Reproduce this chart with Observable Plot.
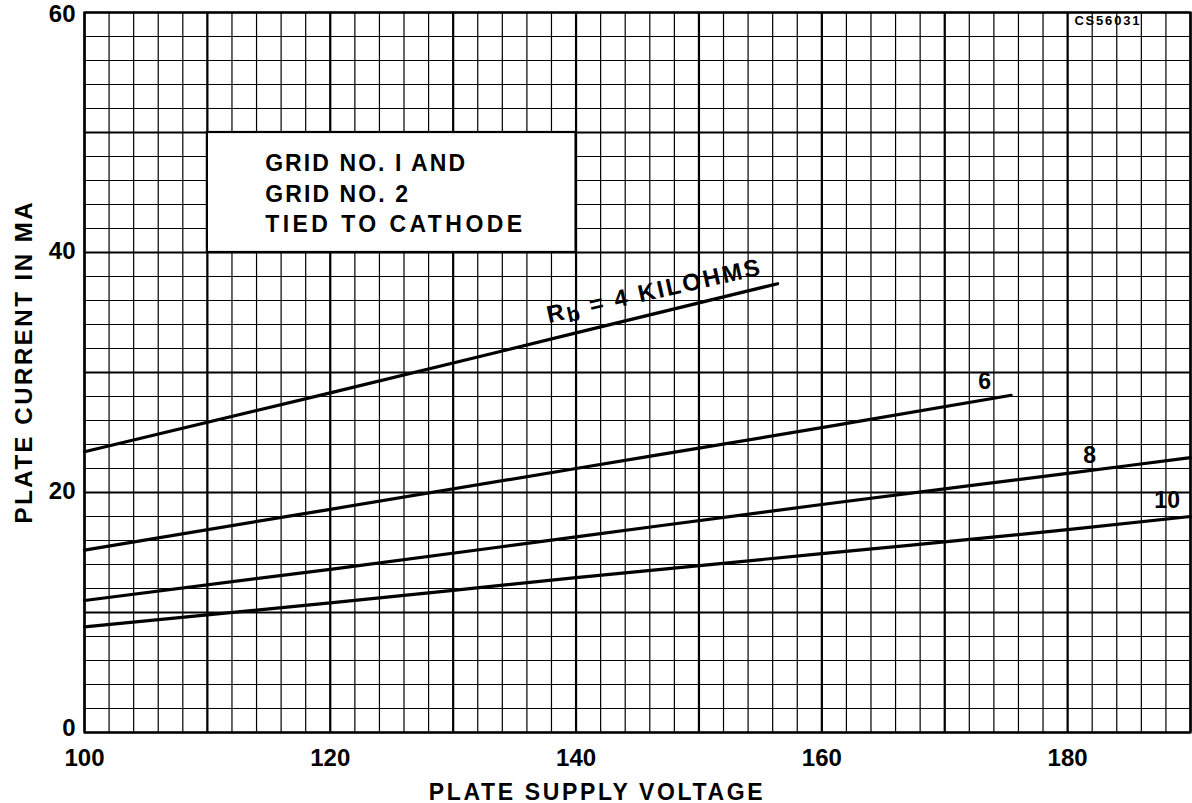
<!DOCTYPE html>
<html>
<head>
<meta charset="utf-8">
<script src="https://cdn.jsdelivr.net/npm/d3@7"></script>
<script src="https://cdn.jsdelivr.net/npm/@observablehq/plot@0.6"></script>
<style>
  html, body { margin: 0; padding: 0; background: #fff; }
  #chart svg { display: block; }
</style>
</head>
<body>
<div id="chart"></div>
<script>
// ---- data ----
const xTicks = [100, 120, 140, 160, 180];
const yTicks = [0, 20, 40, 60];

const rb4V = [100, 120, 140, 156.4];
const rb4I = [23.4, 28.3, 33.3, 37.4];

const rb6V = [100, 120, 140, 160, 175.4];
const rb6I = [15.2, 18.6, 22.0, 25.4, 28.1];

const rb8V = [100, 120, 140, 160, 180, 190];
const rb8I = [11.0, 13.6, 16.3, 19.0, 21.6, 22.9];

const rb10V = [100, 120, 140, 160, 180, 190];
const rb10I = [8.8, 10.8, 12.9, 14.9, 16.9, 18.0];

const curveLabels = ["Rb = 4 KILOHMS", "6", "8", "10"];
const noteLines = ["GRID NO. I AND", "GRID NO. 2", "TIED TO CATHODE"];
const xLabel = "PLATE SUPPLY VOLTAGE";
const yLabel = "PLATE CURRENT IN MA";
const code = "CS56031";

// ---- build tables ----
const series = [
  {V: rb4V, I: rb4I, k: "4"},
  {V: rb6V, I: rb6I, k: "6"},
  {V: rb8V, I: rb8I, k: "8"},
  {V: rb10V, I: rb10I, k: "10"}
];
const pts = series.flatMap(s => s.V.map((v, i) => ({v, i: s.I[i], k: s.k})));

const minorX = d3.range(100, 191, 2);
const minorY = d3.range(0, 61, 2);
const majorX = d3.range(100, 191, 10);
const majorY = d3.range(0, 61, 10);

const FONT = "'Liberation Sans', Arial, sans-serif";
const yAxisOpts = {tickSize: 0, tickPadding: 9, fontSize: 24, fontWeight: "bold", label: null};

const chart = Plot.plot({
  width: 1192,
  height: 803,
  marginLeft: 84,
  marginRight: 2,
  marginTop: 12,
  marginBottom: 71,
  x: {domain: [100, 190]},
  y: {domain: [0, 60]},
  style: {fontFamily: FONT, background: "#fff", color: "#000"},
  marks: [
    Plot.ruleX(minorX, {stroke: "#000", strokeWidth: 1.2}),
    Plot.ruleY(minorY, {stroke: "#000", strokeWidth: 1.2}),
    Plot.ruleX(majorX, {stroke: "#000", strokeWidth: 2.2}),
    Plot.ruleY(majorY, {stroke: "#000", strokeWidth: 2.2}),
    // note box
    Plot.rect([{x1: 110, x2: 140, y1: 40, y2: 50}], {x1: "x1", x2: "x2", y1: "y1", y2: "y2", fill: "#fff", stroke: "#000", strokeWidth: 2.2}),
    Plot.text(noteLines, {
      x: 114.7, y: (d, i) => [46.83, 44.19, 41.69][i],
      text: d => d, textAnchor: "start", lineAnchor: "bottom",
      fontSize: 23, fontWeight: "bold", fill: "#000", className: "note"
    }),
    // curves
    Plot.line(pts, {x: "v", y: "i", z: "k", stroke: "#000", strokeWidth: 3.2, curve: "monotone-x"}),
    // curve labels
    Plot.text([curveLabels[0]], {x: 146.42, y: 36.14, text: d => d, rotate: -12.8, lineAnchor: "bottom", fontSize: 24, fontWeight: "bold", fill: "#000", className: "rblabel"}),
    Plot.text([curveLabels[1]], {x: 173.25, y: 29.25, text: d => d, fontSize: 23, fontWeight: "bold", fill: "#000"}),
    Plot.text([curveLabels[2]], {x: 181.8, y: 23.1, text: d => d, fontSize: 23, fontWeight: "bold", fill: "#000"}),
    Plot.text([curveLabels[3]], {x: 188.1, y: 19.3, text: d => d, fontSize: 23, fontWeight: "bold", fill: "#000"}),
    Plot.text([code], {x: 183.2, y: 59.33, text: d => d, fontSize: 13, fontWeight: "bold", fill: "#000", className: "code"}),
    // axes
    Plot.axisX({ticks: xTicks, tickSize: 0, tickPadding: 16, fontSize: 24, fontWeight: "bold", label: null}),
    Plot.axisY({...yAxisOpts, ticks: yTicks.filter(v => v === 0), dy: -4}),
    Plot.axisY({...yAxisOpts, ticks: yTicks.filter(v => v > 0 && v < 60), dy: -1}),
    Plot.axisY({...yAxisOpts, ticks: yTicks.filter(v => v === 60), dy: 2}),
    Plot.text([xLabel], {x: 141.6, frameAnchor: "bottom", lineAnchor: "bottom", dy: 67, text: d => d, fontSize: 23, fontWeight: "bold", fill: "#000", className: "xlab"}),
    Plot.text([yLabel], {y: 30.8, frameAnchor: "left", textAnchor: "middle", lineAnchor: "middle", dx: -60, rotate: -90, text: d => d, fontSize: 24, fontWeight: "bold", fill: "#000", className: "ylab"}),
    Plot.frame({stroke: "#000", strokeWidth: 2.2})
  ]
});

document.getElementById("chart").appendChild(chart);

const svg = d3.select(chart);

// subscript b in "Rb"
svg.selectAll(".rblabel text").each(function () {
  const t = d3.select(this);
  const s = t.text();
  if (!s.startsWith("Rb")) return;
  t.text(null);
  t.append("tspan").text("R");
  t.append("tspan").attr("dy", 4).attr("font-size", 21).text("b");
  t.append("tspan").attr("dy", -4).text(s.slice(2));
});

// stretch lettering to the widths seen in the reference
function fit(sel, widths) {
  svg.selectAll(sel).each(function (d, i) {
    const w = widths[Math.min(i, widths.length - 1)];
    d3.select(this).attr("textLength", w).attr("lengthAdjust", "spacing");
  });
}
fit(".note text", [200, 143, 257]);
fit(".xlab text", [334]);
fit(".ylab text", [321]);
fit(".rblabel text", [218]);
fit(".code text", [65]);
</script>
</body>
</html>
